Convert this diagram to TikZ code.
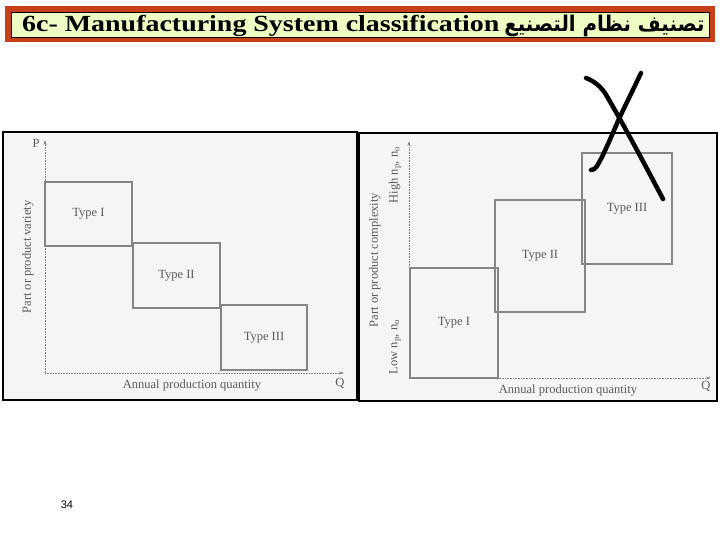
\documentclass[tikz,border=0pt]{standalone}
\usepackage{fontspec}
\usepackage{graphicx}
\usetikzlibrary{arrows.meta}
\setmainfont{Liberation Serif}
\newfontfamily\arabicfont[Script=Arabic]{DejaVu Sans}
\newfontfamily\sansfam{Liberation Sans}
\TeXXeTstate=1
\definecolor{titlered}{HTML}{C8401A}
\definecolor{titlegreen}{HTML}{EEFDC4}
\definecolor{panelgray}{HTML}{F5F5F5}
\definecolor{boxgray}{HTML}{858585}
\definecolor{txtgray}{HTML}{5A5A5A}
\tikzset{
  panel/.style={fill=panelgray, draw=black, line width=1.4pt},
  typebox/.style={draw=boxgray, line width=2pt, inner sep=0pt, font=\fontsize{12.5}{14}\selectfont, text=txtgray},
  axisline/.style={draw=gray, line width=0.6pt, densely dotted, -{Stealth[length=5pt,width=3pt]}},
  lbl/.style={font=\fontsize{12.5}{14}\selectfont, text=txtgray, inner sep=0pt},
  xmark/.style={line width=4.5pt, line cap=round, black}
}
\begin{document}
\begin{tikzpicture}[x=1pt,y=-1pt]
\useasboundingbox (0,0) rectangle (720,540);
\fill[white] (0,0) rectangle (720,540);
% title banner
\fill[titlered] (5,6) rectangle (715,42);
\draw[fill=titlegreen, draw=black, line width=0.6pt] (11,12) rectangle (709,37);
\node[inner sep=0pt, anchor=west] (title) at (22,25.5)
  {\scalebox{1.27}[1.05]{\bfseries\fontsize{22}{24}\selectfont 6c- Manufacturing System classification}\hspace{5pt}\scalebox{0.94}[1.03]{\arabicfont\bfseries\fontsize{21}{24}\selectfont\beginR تصنيف نظام التصنيع\endR}};
% panels
\draw[panel] (3,132) rectangle (357,400);
\draw[panel] (359,133) rectangle (717,401);
% left panel
\coordinate (lo) at (45,373);
\coordinate (ltop) at (45,140);
\coordinate (lq) at (344,373);
\draw[axisline] (lo) -- (ltop);
\draw[axisline] (lo) -- (lq);
\node[lbl] (P) at (36,143) {P};
\node[lbl] (Ql) at (340,383) {Q};
\node[lbl] (axl) at (192,386) {Annual production quantity};
\node[lbl, rotate=90] (varl) at (28,257) {Part or product variety};
\node[typebox, minimum width=87pt, minimum height=64pt] (L1) at (88.5,214) {Type I};
\node[typebox, minimum width=87pt, minimum height=65pt] (L2) at (176.5,275.5) {Type II};
\node[typebox, minimum width=86pt, minimum height=65pt] (L3) at (264,337.5) {Type III};
% right panel
\coordinate (ro) at (409,378);
\coordinate (rtop) at (409,141);
\coordinate (rq) at (711,378);
\draw[axisline] (ro) -- (rtop);
\draw[axisline] (ro) -- (rq);
\node[lbl] (Qr) at (706,386) {Q};
\node[lbl] (axr) at (568,391) {Annual production quantity};
\node[lbl, rotate=90] (comp) at (375,260) {Part or product complexity};
\node[lbl, rotate=90] (high) at (395,175) {High n\textsubscript{p}, n\textsubscript{o}};
\node[lbl, rotate=90] (low) at (395,347) {Low n\textsubscript{p}, n\textsubscript{o}};
\node[typebox, minimum width=88pt, minimum height=110pt] (R1) at (454,323) {Type I};
\node[typebox, minimum width=90pt, minimum height=112pt] (R2) at (540,256) {Type II};
\node[typebox, minimum width=90pt, minimum height=111pt] (R3) at (627,208.5) {Type III};
% hand-drawn X
\draw[xmark] (586,78) .. controls (594,81) and (600,86) .. (605,93)
  .. controls (625,127) and (645,165) .. (663,199);
\draw[xmark] (641,73) .. controls (632,92) and (624,108) .. (618,121)
  .. controls (610,140) and (602,158) .. (597,166) .. controls (595,169) and (593,170) .. (591,170);
% page number
\node[inner sep=0pt, font=\sansfam\fontsize{11}{12}\selectfont] (pg) at (67,505) {34};
\end{tikzpicture}
\end{document}
